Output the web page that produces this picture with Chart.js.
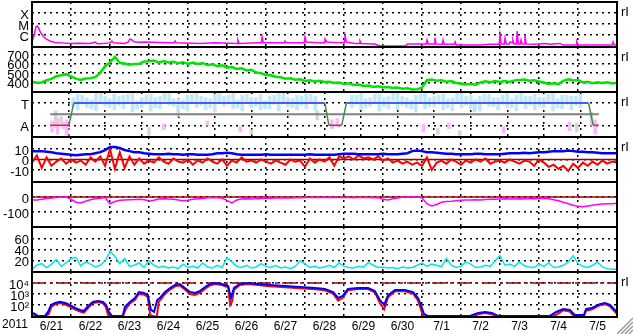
<!DOCTYPE html>
<html>
<head>
<meta charset="utf-8">
<title>2011 solar wind summary</title>
<script src="https://cdn.jsdelivr.net/npm/chart.js@4/dist/chart.umd.min.js"></script>
<style>
  html, body { margin: 0; padding: 0; background: #fff; }
  body { position: relative; width: 633px; height: 334px; overflow: hidden; }
  canvas { position: absolute; left: 0; }
</style>
</head>
<body>
<canvas id="xray"></canvas>
<canvas id="speed"></canvas>
<canvas id="sector"></canvas>
<canvas id="imf"></canvas>
<canvas id="dst"></canvas>
<canvas id="act"></canvas>
<canvas id="flux"></canvas>
<script>
// time axis is in days since 2011-06-21 00:00
const DAY_MIN = 0, DAY_MAX = 15;
const dayTicks = [0, 1, 2, 3, 4, 5, 6, 7, 8, 9, 10, 11, 12, 13, 14, 15];
const dateLabels = ['6/21', '6/22', '6/23', '6/24', '6/25', '6/26', '6/27', '6/28',
  '6/29', '6/30', '7/1', '7/2', '7/3', '7/4', '7/5'];
const yearLabel = '2011';
const STEP_3H = 0.125, STEP_6H = 0.25;

// x-ray flux (W/m2), irregular samples
const xrayT = [0, 0.05, 0.10, 0.13, 0.17, 0.21, 0.28, 0.36, 0.46, 0.59, 0.77, 0.97, 1.20, 1.49,
  1.62, 1.66, 1.74, 2.00, 2.05, 2.09, 2.38, 2.47, 2.51, 2.56, 2.60, 2.72, 2.90, 3.28, 3.54,
  3.64, 3.67, 3.70, 4.31, 4.69, 5.26, 5.28, 5.31, 5.79, 5.88, 5.90, 5.93, 6.36, 6.47, 6.49,
  6.52, 6.87, 6.98, 7.00, 7.03, 7.38, 7.49, 7.51, 7.56, 7.90, 8.01, 8.03, 8.06, 8.28, 8.39,
  8.41, 8.44, 8.79, 8.92, 9.56, 9.64, 9.95, 10.11, 10.13, 10.16, 10.31, 10.33, 10.36, 10.52,
  10.54, 10.57, 10.83, 10.85, 10.88, 11.49, 11.74, 11.98, 12.00, 12.03, 12.11, 12.13, 12.16,
  12.24, 12.26, 12.31, 12.33, 12.36, 12.42, 12.44, 12.47, 12.52, 12.54, 12.57, 12.62, 12.64,
  12.67, 12.90, 13.15, 13.28, 13.54, 13.62, 13.95, 13.97, 14.00, 14.56, 14.88, 14.90, 14.93, 15];
const xrayF = [2.5e-7, 8e-7, 5.3e-6, 6.6e-6, 4.3e-6, 1.9e-6, 8e-7, 4.3e-7, 2.8e-7, 2.1e-7, 1.9e-7, 1.7e-7, 1.8e-7, 1.7e-7,
  2.3e-7, 1.7e-7, 1.6e-7, 1.9e-7, 2.8e-7, 1.9e-7, 1.7e-7, 2.3e-7, 4.3e-7, 3.5e-7, 2.5e-7, 2.2e-7, 2.3e-7, 2.1e-7, 1.9e-7,
  1.9e-7, 2.8e-7, 1.9e-7, 1.7e-7, 1.9e-7, 1.7e-7, 3.5e-7, 1.7e-7, 1.9e-7, 1.9e-7, 6.6e-7, 1.9e-7, 1.9e-7, 1.9e-7, 2.8e-7,
  1.9e-7, 1.9e-7, 1.9e-7, 6.6e-7, 2.3e-7, 1.9e-7, 1.9e-7, 4.3e-7, 2.3e-7, 1.9e-7, 1.9e-7, 8e-7, 2.3e-7, 1.7e-7, 1.7e-7,
  2.8e-7, 1.7e-7, 1.5e-7, 1.0e-7, 1.0e-7, 1.5e-7, 1.5e-7, 1.5e-7, 3.5e-7, 1.5e-7, 1.5e-7, 5.3e-7, 1.5e-7, 1.4e-7,
  3.5e-7, 1.4e-7, 1.4e-7, 2.3e-7, 1.2e-7, 1.2e-7, 1.4e-7, 1.4e-7, 1.0e-6, 1.5e-7, 1.5e-7, 5.3e-7, 1.5e-7,
  1.5e-7, 2.3e-7, 2.0e-7, 3.5e-7, 1.5e-7, 1.5e-7, 2.3e-6, 1.5e-7, 1.5e-7, 3.5e-7, 1.5e-7, 1.5e-7, 1.0e-6,
  1.5e-7, 1.4e-7, 1.7e-7, 1.4e-7, 1.7e-7, 1.2e-7, 1.2e-7, 2.3e-7, 1.2e-7, 1.2e-7, 1.2e-7, 2.3e-7, 1.2e-7, 1.2e-7];
const xrayTicks = [1e-6, 1e-5, 1e-4];
const xrayLabels = ['C', 'M', 'X'];

// solar wind speed (km/s), 3-hourly
const speed = [410, 398, 402, 425, 440, 468, 478, 490, 466, 442,
  428, 444, 448, 458, 505, 575, 615, 675, 610, 604,
  590, 598, 600, 625, 628, 635, 612, 630, 615, 622,
  608, 618, 600, 615, 598, 610, 588, 596, 576, 584,
  560, 566, 545, 552, 530, 536, 508, 500, 482, 478,
  462, 458, 442, 446, 430, 436, 418, 425, 412, 420,
  406, 410, 396, 402, 386, 392, 376, 380, 364, 368,
  354, 360, 348, 354, 342, 348, 336, 340, 326, 330,
  345, 425, 432, 420, 426, 410, 416, 396, 390, 380,
  386, 378, 402, 414, 404, 416, 406, 418, 408, 424,
  428, 434, 420, 426, 412, 402, 386, 392, 384, 418,
  436, 424, 428, 402, 408, 394, 404, 396, 404, 392,
  400];
const speedTicks = [400, 500, 600, 700];

// sector polarity: T = toward (+1), A = away (-1)
const sectorRedT = [0, 0.51, 0.52, 7.62, 7.97, 7.98, 14.85, 15];
const sectorRedY = [-1, -1, null, -1, -1, null, -1, -1];
const sectorGreenT = [0.51, 0.64, 0.65, 7.51, 7.62, 7.63, 7.97, 8.10, 8.11, 14.72, 14.85];
const sectorGreenY = [-1, 1, null, 1, -1, null, -1, 1, null, 1, -1];
const sectorBlueT = [0.64, 7.51, 7.52, 8.10, 14.72];
const sectorBlueY = [1, 1, null, 1, 1];
// field angle scatter, 6-hourly ranges, two interleaved sets
const cyanLo = [null, null, null, 0.4, 0.6, 0.3, 0.7, 0.4, 0.5, 0.2,
  0.6, 0.3, 0.5, 0.8, 0.4, 0.3, 0.6, 0.4, 0.2, 0.7,
  0.5, 0.3, 0.6, 0.4, 0.5, 0.3, 0.7, 0.4, 0.5, 0.3,
  null, null, null, 0.6, 0.4, 0.7, 0.3, 0.5, 0.4, 0.6,
  0.2, 0.5, 0.7, 0.4, 0.3, 0.6, 0.5, 0.3, 0.7, 0.4,
  0.6, 0.3, 0.5, 0.4, 0.6, 0.3, 0.5, 0.4, 0.6, null, null];
const cyanHi = [null, null, null, 1.8, 1.5, 1.9, 1.6, 1.8, 1.7, 1.9,
  1.5, 1.8, 1.6, 1.9, 1.4, 1.7, 1.9, 1.5, 1.8, 1.6,
  1.9, 1.7, 1.5, 1.8, 1.6, 1.9, 1.5, 1.7, 1.8, 1.6,
  null, null, null, 1.7, 1.9, 1.5, 1.8, 1.6, 2.0, 1.5,
  1.7, 1.9, 1.6, 1.8, 1.5, 1.9, 1.7, 1.6, 1.8, 1.5,
  1.9, 1.7, 1.6, 1.8, 1.5, 1.9, 1.7, 1.6, 1.8, null, null];
const cyan2Lo = [null, null, 0.7, 0.9, 0.5, 1.0, 0.6, 0.8, 1.1, 0.5,
  0.9, 0.6, 1.2, 0.7, 0.5, 1.0, 0.8, 0.6, 1.1, 0.9,
  0.6, 1.0, 0.7, 0.5, 0.9, 1.1, 0.6, 0.8, 1.0, null,
  null, null, null, 0.9, 0.6, 1.0, 0.7, 1.2, 0.8, 0.5,
  1.0, 0.7, 0.9, 0.6, 1.1, 0.8, 0.5, 1.0, 0.7, 0.9,
  0.6, 1.1, 0.8, 0.7, 1.0, 0.6, 0.9, 0.8, null, null, null];
const cyan2Hi = [null, null, 1.5, 1.7, 1.3, 1.9, 1.4, 1.6, 1.8, 1.2,
  1.7, 1.5, 1.9, 1.4, 1.3, 1.8, 1.6, 1.4, 1.9, 1.7,
  1.3, 1.8, 1.5, 1.2, 1.7, 1.9, 1.4, 1.6, 1.8, null,
  null, null, null, 1.7, 1.4, 1.8, 1.5, 1.9, 1.6, 1.3,
  1.8, 1.5, 1.7, 1.4, 1.9, 1.6, 1.3, 1.8, 1.5, 1.7,
  1.4, 1.9, 1.6, 1.5, 1.8, 1.4, 1.7, 1.6, null, null, null];
const pinkT = [0.05, 0.2, 0.35, 0.45, 3.1, 4.3, 5.2, 7.7, 7.85, 10.2, 10.9, 12.4, 14.2, 14.9];
const pinkLo = [-1.6, -1.8, -1.3, -1.9, -1.4, -1.0, -1.6, -1.3, -1.1, -1.6, -1.3, -1.7, -1.5, -1.8];
const pinkHi = [-0.6, -0.4, -0.7, -0.5, -0.9, -0.6, -1.1, -0.5, -0.4, -0.9, -0.8, -1.1, -0.7, -0.5];
const grayT = [0.15, 0.3, 2.7, 3.5, 4.5, 5.5, 7.3, 10.6, 11.2, 11.6, 14.4, 14.8];
const grayLo = [-1.2, -0.9, -1.9, -0.2, 1.2, -1.8, -0.5, -1.8, -1.9, 0.2, -1.6, -1.0];
const grayHi = [0.3, -0.2, -1.2, 0.8, 1.7, -1.4, 0.3, -1.3, -1.5, 1.0, -0.8, 0.2];
const sectorTicks = [-1, 1];
const sectorLabels = ['A', 'T'];

// IMF (nT), 3-hourly
const bt = [8, 8, 8, 7.5, 7, 6, 5.5, 5, 4.5, 4,
  4.5, 5, 5, 6, 7, 9, 12, 12, 11, 9,
  8, 7, 7, 6, 5.5, 5, 5, 5, 5.5, 5,
  5, 4.5, 5, 5, 4.5, 4.5, 4.5, 5, 6, 6,
  6.5, 6, 5, 4.5, 4.5, 4.5, 4.5, 4.5, 5, 4.5,
  4.5, 4.5, 4.5, 4.5, 4.5, 4.5, 4.5, 5, 4.5, 4.5,
  4.5, 4.5, 4.5, 5, 5.5, 5.5, 5.5, 5, 5, 5,
  5, 5, 5.5, 5, 5, 5, 5.5, 6, 8, 8.5,
  8, 7, 7, 6.5, 6, 5.5, 5.5, 5, 5, 5,
  5, 5.5, 5.5, 5, 5, 5, 5, 5.5, 6, 6,
  6, 6.5, 6, 6.5, 7, 7, 7.5, 8, 8, 8,
  8.5, 8, 7.5, 7.5, 7, 7, 6.5, 6, 6, 6,
  6];
const bz = [-3, 4, -8, 2, -6, -2, 1, -4, 0, -3,
  -1, -5, 2, -2, 3, -6, 10, -9, 7, -8,
  3, -5, 1, -4, -1, -3, 2, -2, -4, 1,
  -2, -3, 0, -5, -1, -3, 1, -2, -4, 0,
  -6, -1, -3, 2, -2, -1, -3, 0, -2, -4,
  -1, -3, -5, 0, -2, -1, -7, 1, -3, 0,
  -2, 2, -6, 3, 1, 3, 0, 4, 1, 2,
  0, 3, -1, 1, -3, -1, -4, -2, -5, -3,
  -6, 2, -10, -3, -1, -4, 0, -2, -5, -1,
  -3, 0, -2, 1, -4, -2, -1, -3, 0, -2,
  -4, -1, -2, -6, 0, -3, -7, -5, -9, -6,
  -11, -4, -8, -3, -6, -2, -5, -1, -4, -2,
  -3];
const imfTicks = [-10, 0, 10];

// Dst (nT), 3-hourly
const dst = [-20, -20, -15, -10, -7, -3, 0, 0, -15, -35,
  -40, -28, -18, -12, -8, -3, -45, -30, -22, -20,
  -18, -17, -15, -18, -25, -22, -14, -12, -13, -15,
  -20, -25, -22, -15, -12, -10, -5, -5, -4, -8,
  -22, -40, -20, -13, -12, -13, -12, -10, -9, -8,
  -7, -7, -6, -7, -5, -5, -4, -4, -3, -3,
  -3, -2, -3, -4, -4, -4, -5, -4, -3, -4,
  -5, -4, -15, -20, -12, -6, -2, 0, 0, 0,
  -5, -45, -60, -50, -35, -30, -28, -25, -22, -20,
  -20, -18, -20, -17, -15, -15, -13, -12, -14, -13,
  -12, -13, -12, -12, -10, -8, -12, -18, -25, -35,
  -45, -55, -62, -65, -60, -55, -50, -47, -45, -45,
  -42];
const dstTicks = [-100, 0];

// activity index, 3-hourly
const act = [5, 12, 15, 8, 14, 22, 10, 16, 24, 26,
  11, 18, 14, 9, 12, 20, 36, 28, 15, 24,
  10, 12, 16, 8, 20, 12, 8, 10, 7, 9,
  6, 14, 8, 10, 7, 16, 9, 7, 12, 8,
  26, 18, 10, 8, 12, 7, 9, 15, 10, 8,
  12, 7, 9, 6, 10, 20, 14, 8, 10, 7,
  9, 12, 8, 16, 10, 8, 7, 10, 9, 17,
  12, 8, 9, 7, 8, 6, 9, 7, 8, 12,
  16, 10, 14, 12, 9, 24, 12, 8, 10, 18,
  14, 8, 9, 12, 10, 20, 29, 12, 14, 10,
  18, 11, 9, 8, 14, 10, 16, 8, 9, 12,
  18, 29, 15, 10, 8, 12, 18, 9, 6, 5,
  5];
const actTicks = [20, 40, 60];

// electron flux, irregular samples
const fluxBlueT = [0.03, 0.15, 0.33, 0.41, 0.49, 0.59, 0.72, 0.85, 0.97, 1.10, 1.23, 1.33, 1.44, 1.56,
  1.69, 1.82, 1.90, 1.97, 2.05, 2.26, 2.33, 2.38, 2.51, 2.64, 2.74, 2.87, 2.97, 3.05, 3.13, 3.21,
  3.28, 3.41, 3.54, 3.67, 3.79, 3.92, 4.05, 4.18, 4.31, 4.44, 4.56, 4.69, 4.87, 5.03, 5.10, 5.18,
  5.33, 5.54, 5.79, 6.10, 6.49, 6.87, 7.26, 7.51, 7.72, 7.85, 7.97, 8.10, 8.36, 8.62, 8.79, 8.92,
  9.03, 9.13, 9.31, 9.56, 9.77, 9.90, 9.97, 10.05, 10.15, 11.23, 11.44, 11.62, 11.79, 11.95,
  13.28, 13.44, 13.62, 13.79, 13.92, 14.15, 14.21, 14.36, 14.56, 14.69, 14.82, 14.92, 15];
const fluxBlueV = [19, 10, 10, 23, 100, 150, 190, 150, 100, 53, 35, 28, 80, 190,
  230, 190, 100, 23, 10, 10, 10, 65, 190, 430, 1500, 1230, 800, 35, 23, 280,
  430, 1500, 3500, 6600, 8100, 3500, 1500, 1230, 1900, 4300, 8100, 10000, 8100, 5300, 430, 3500,
  8100, 10000, 8100, 6600, 5300, 4300, 3500, 2800, 1500, 430, 660, 2800, 3500, 3500, 1900, 280,
  100, 800, 2300, 2300, 1500, 430, 100, 15, 10, 10, 19, 23, 19, 10,
  10, 23, 43, 35, 12, 12, 43, 53, 120, 150, 100, 43, 23];
const fluxRedT = [0.03, 0.10, 0.33, 0.43, 0.50, 0.60, 0.72, 0.85, 0.97, 1.10, 1.23, 1.33, 1.44, 1.56,
  1.69, 1.82, 1.90, 1.95, 2.00, 2.33, 2.40, 2.51, 2.64, 2.74, 2.87, 2.97, 3.03, 3.13, 3.20, 3.25,
  3.30, 3.41, 3.54, 3.67, 3.79, 3.92, 4.05, 4.18, 4.31, 4.44, 4.56, 4.69, 4.87, 5.03, 5.08, 5.13,
  5.18, 5.33, 5.54, 5.79, 6.10, 6.49, 6.87, 7.26, 7.51, 7.72, 7.85, 7.97, 8.10, 8.36, 8.62, 8.79,
  8.92, 9.03, 9.13, 9.31, 9.56, 9.77, 9.90, 9.97, 10.03, 11.30, 11.44, 11.62, 11.79, 11.95,
  13.35, 13.50, 13.62, 13.79, 13.90, 14.15, 14.21, 14.36, 14.56, 14.69, 14.82, 14.92, 15];
const fluxRedV = [14, 9, 9, 15, 70, 120, 150, 110, 70, 40, 25, 20, 55, 150,
  180, 140, 60, 12, 9, 9, 40, 140, 300, 1000, 900, 500, 12, 9, 9, 200,
  300, 1000, 2500, 5000, 6000, 2500, 1000, 800, 1300, 3000, 6000, 8000, 6500, 4000, 100, 200,
  2500, 6500, 8000, 6500, 5000, 4000, 3300, 2700, 2200, 1100, 250, 450, 2200, 2800, 2800, 1400,
  150, 40, 500, 1800, 1800, 1100, 250, 40, 9, 9, 14, 18, 14, 9,
  9, 17, 32, 25, 9, 9, 30, 40, 95, 120, 75, 30, 15];
const FLUX_ALERT = 1e4;
const fluxTicks = [1e2, 1e3, 1e4];
const fluxLabels = ['10²', '10³', '10⁴'];

const panelTag = 'rI';

// ---- layout ----
const PAGE_W = 633, PAGE_H = 334;
const PLOT_LEFT = 32, PLOT_RIGHT = 617, PANEL_H = 45;
const DOT = [2, 4];
const FONT = '"Liberation Sans", Arial, sans-serif';

Chart.defaults.font.family = FONT;
Chart.defaults.font.size = 13;
Chart.defaults.color = '#000';

const series = (vals, step) => vals.map((v, i) => ({ x: i * step, y: v }));
const pairs = (ts, vs) => ts.map((t, i) => ({ x: t, y: vs[i] }));
const ranges = (ts, lo, hi) => ts.map((t, i) => ({ x: t, y: [lo[i], hi[i]] })).filter(d => d.y[0] !== null);
const level = v => [{ x: DAY_MIN, y: v }, { x: DAY_MAX, y: v }];

function line(data, color, width, extra) {
  return Object.assign({ type: 'line', data, borderColor: color, borderWidth: width,
    pointRadius: 0, fill: false, tension: 0, spanGaps: false, order: 1 }, extra || {});
}
function band(data, color, thick) {
  return { type: 'bar', data, backgroundColor: color, borderWidth: 0,
    barThickness: thick, stack: 'scatter', order: 10 };
}

// panel frame, right-hand tag, year label and the window grip
const framePlugin = {
  id: 'frame',
  afterDraw(chart, args, opts) {
    const { ctx, chartArea: a } = chart;
    ctx.save();
    ctx.strokeStyle = '#000';
    ctx.lineWidth = 2;
    ctx.strokeRect(a.left, a.top, a.right - a.left, a.bottom - a.top);
    ctx.fillStyle = '#000';
    if (opts.tag) {
      ctx.font = '13px ' + FONT;
      ctx.textBaseline = 'middle';
      ctx.fillText(opts.tag, a.right + 4, a.top + 10);
    }
    if (opts.year) {
      ctx.font = '12px ' + FONT;
      ctx.textBaseline = 'top';
      ctx.fillText(opts.year, 2, a.bottom + 2);
    }
    if (opts.grip) {
      ctx.strokeStyle = '#999';
      ctx.lineWidth = 1.5;
      for (const k of [4, 8, 12, 16]) {
        ctx.beginPath();
        ctx.moveTo(chart.width - k, chart.height);
        ctx.lineTo(chart.width, chart.height - k);
        ctx.stroke();
      }
    }
    ctx.restore();
  }
};

function makePanel(id, top, y, datasets, extra) {
  extra = extra || {};
  const canvas = document.getElementById(id);
  const canvasTop = top - 2;
  canvas.width = PAGE_W;
  canvas.height = extra.bottom ? PAGE_H - canvasTop : PANEL_H + 4;
  canvas.style.top = canvasTop + 'px';

  const scales = {
    x: {
      type: 'linear', min: DAY_MIN, max: DAY_MAX,
      afterBuildTicks: s => { s.ticks = dayTicks.map(v => ({ value: v })); },
      afterFit: s => { s.height = 0; s.paddingLeft = 0; s.paddingRight = 0; },
      ticks: { display: false },
      grid: { color: '#000', lineWidth: 1.5, drawTicks: false },
      border: { display: false, dash: DOT }
    },
    y: {
      type: y.type || 'linear', min: y.min, max: y.max, stacked: false,
      afterBuildTicks: s => { s.ticks = y.ticks.map(v => ({ value: v })); },
      afterFit: s => { s.width = PLOT_LEFT; s.paddingTop = 0; s.paddingBottom = 0; },
      ticks: { padding: 3, labelOffset: 2, autoSkip: false, callback: (v, i) => y.labels[i] },
      grid: { color: '#000', lineWidth: 1.5, drawTicks: false },
      border: { display: false, dash: DOT }
    }
  };
  if (extra.bottom) {
    scales.x2 = {
      type: 'linear', position: 'bottom', min: DAY_MIN, max: DAY_MAX, weight: 1,
      afterBuildTicks: s => { s.ticks = dateLabels.map((d, i) => ({ value: dayTicks[i] + 0.5 })); },
      afterFit: s => { s.height = canvas.height - 2 - PANEL_H; s.paddingLeft = 0; s.paddingRight = 0; },
      ticks: { autoSkip: false, maxRotation: 0, padding: 2, font: { size: 12 }, callback: (v, i) => dateLabels[i] },
      grid: { display: false, drawTicks: false },
      border: { display: false }
    };
  }

  return new Chart(canvas, {
    type: 'line',
    data: { datasets },
    options: {
      responsive: false,
      animation: false,
      events: [],
      layout: { padding: { left: 0, right: PAGE_W - PLOT_RIGHT, top: 2, bottom: extra.bottom ? 0 : 2 } },
      scales,
      plugins: {
        legend: { display: false },
        tooltip: { enabled: false },
        frame: { tag: extra.tag || null, year: extra.bottom ? yearLabel : null, grip: !!extra.bottom }
      }
    },
    plugins: [framePlugin]
  });
}

const cyanT = cyanLo.map((v, j) => j * STEP_6H);
const cyan2T = cyan2Lo.map((v, j) => j * STEP_6H + STEP_3H);

makePanel('xray', 2,
  { type: 'logarithmic', min: 8e-8, max: 1e-3, ticks: xrayTicks, labels: xrayLabels },
  [line(pairs(xrayT, xrayF), '#ff00ff', 1.5)],
  { tag: panelTag });

makePanel('speed', 47,
  { min: 300, max: 780, ticks: speedTicks, labels: speedTicks.map(String) },
  [line(series(speed, STEP_3H), '#00e400', 2.5)],
  { tag: panelTag });

makePanel('sector', 92,
  { min: -2.05, max: 2.0, ticks: sectorTicks, labels: sectorLabels },
  [
    band(ranges(cyanT, cyanLo, cyanHi), '#bfe8fb', 3),
    band(ranges(cyan2T, cyan2Lo, cyan2Hi), '#bfe8fb', 3),
    band(ranges(pinkT, pinkLo, pinkHi), '#ffb8ff', 3),
    band(ranges(grayT, grayLo, grayHi), '#d6d6d6', 3),
    line(level(0), '#808080', 2, { order: 5 }),
    line(pairs(sectorRedT, sectorRedY), '#e02828', 1.5),
    line(pairs(sectorGreenT, sectorGreenY), '#3c8c4c', 1.5),
    line(pairs(sectorBlueT, sectorBlueY), '#4a5cf0', 2)
  ],
  { tag: panelTag });

makePanel('imf', 137,
  { min: -21.5, max: 21.5, ticks: imfTicks, labels: imfTicks.map(String) },
  [
    line(level(0), '#a00000', 1.5, { order: 3 }),
    line(series(bz, STEP_3H), '#ff0000', 2, { order: 2 }),
    line(series(bt, STEP_3H), '#0000ff', 2.5, { order: 1 })
  ],
  { tag: panelTag });

makePanel('dst', 182,
  { min: -200, max: 100, ticks: dstTicks, labels: dstTicks.map(String) },
  [
    line(level(0), '#a00000', 1.5, { order: 2 }),
    line(series(dst, STEP_3H), '#ff00ff', 1.5, { order: 1 })
  ]);

makePanel('act', 227,
  { min: 0, max: 80, ticks: actTicks, labels: actTicks.map(String) },
  [line(series(act, STEP_3H), '#00e6e6', 1.5)]);

makePanel('flux', 272,
  { type: 'logarithmic', min: 8, max: 1e5, ticks: fluxTicks, labels: fluxLabels },
  [
    line(level(FLUX_ALERT), '#a00000', 1.5, { order: 3, borderDash: [14, 4, 3, 4] }),
    line(pairs(fluxRedT, fluxRedV), '#ff0000', 2, { order: 2 }),
    line(pairs(fluxBlueT, fluxBlueV), '#0000ff', 2, { order: 1 })
  ],
  { tag: panelTag, bottom: true });
</script>
</body>
</html>
